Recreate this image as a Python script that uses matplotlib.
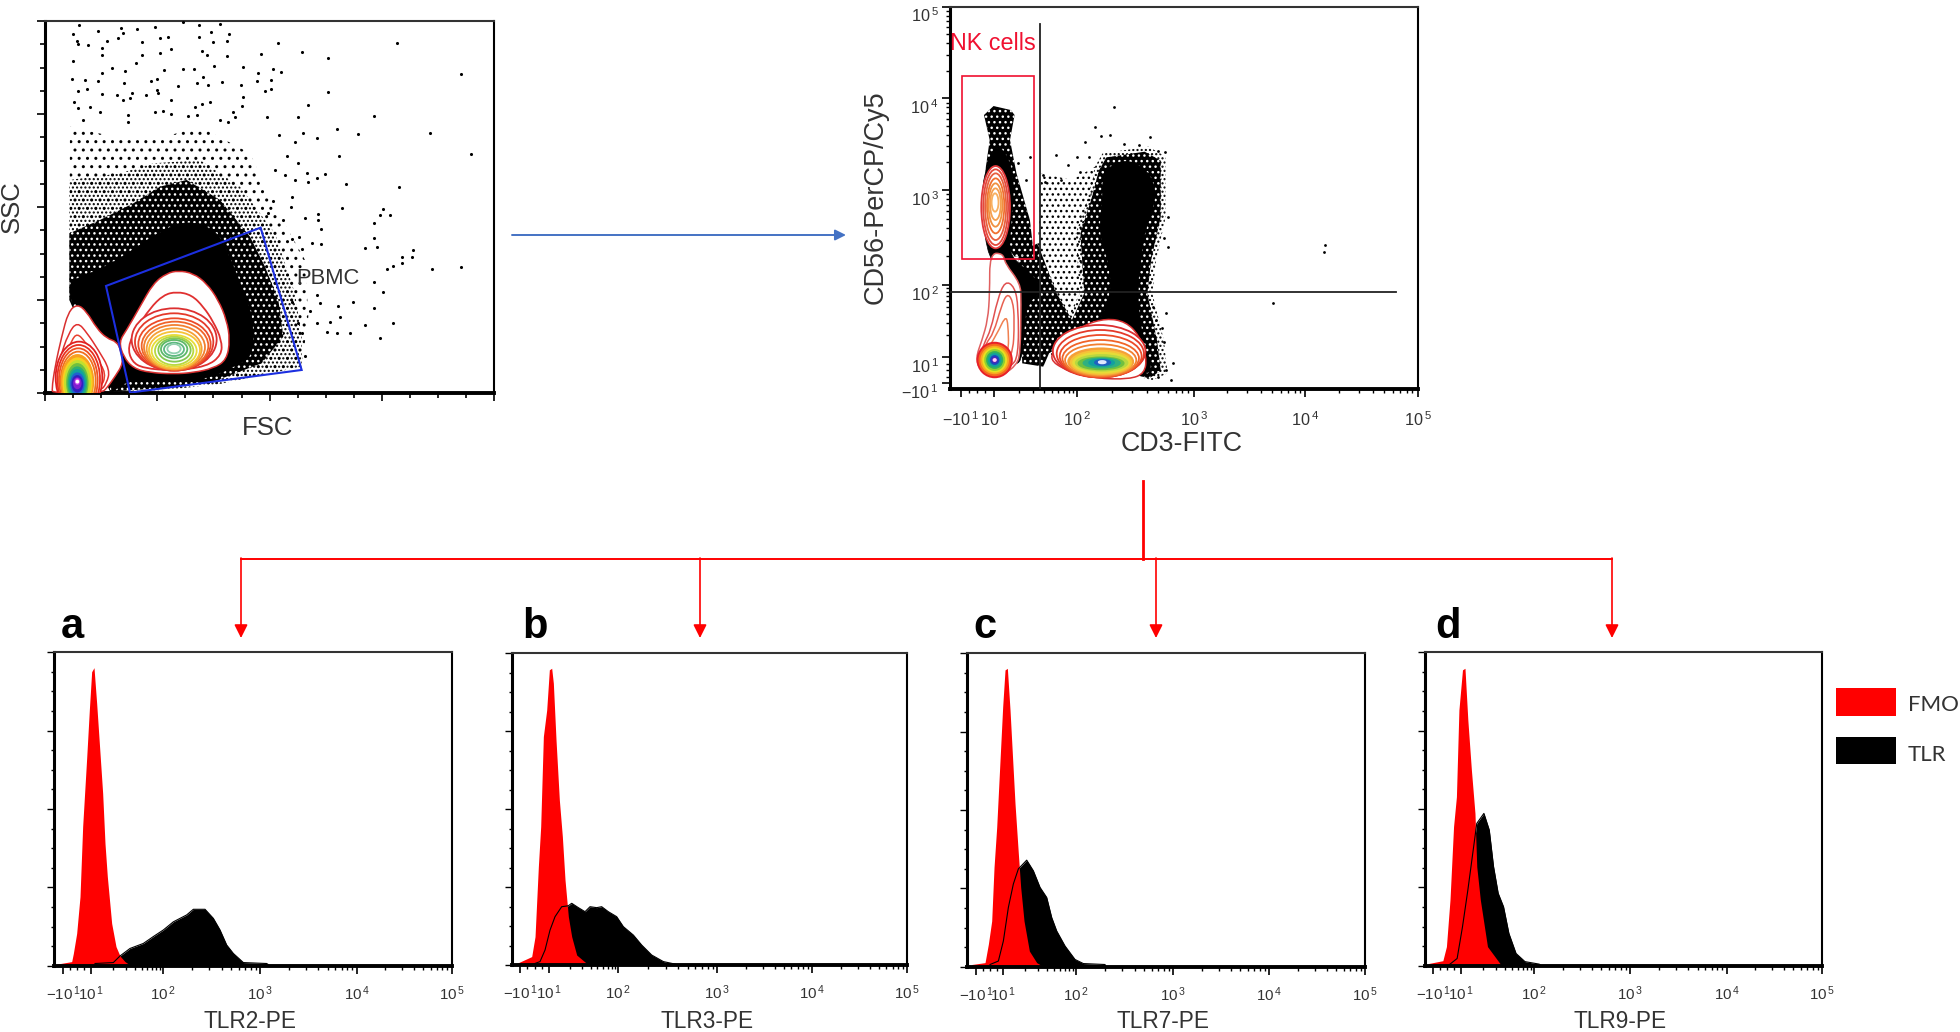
import matplotlib
matplotlib.use('Agg')
import matplotlib.pyplot as plt
from matplotlib.patches import Ellipse, PathPatch, Polygon, Rectangle
from matplotlib.path import Path
import numpy as np

plt.rcParams['font.family'] = ['Liberation Sans', 'DejaVu Sans']
plt.rcParams['mathtext.fontset'] = 'custom'
plt.rcParams['mathtext.rm'] = 'Liberation Sans'
plt.rcParams['hatch.linewidth'] = 1.0

# Histograms: x in channels, y in % of the scale
FMO_A_X = [0, 8, 53, 58, 68, 78, 86, 98, 106, 113, 120, 128, 136, 146, 153, 160, 173, 186, 198, 213, 228]
FMO_A_Y = [0, 0.5, 1.3, 3.9, 10.3, 22, 44.4, 66.2, 81.6, 93.8, 95.1, 83.7, 71, 55, 39, 28.4, 13.5, 6.1, 3.1, 1.3, 0.2]
TLR_A_X = [123, 178, 198, 228, 268, 298, 328, 358, 398, 418, 453, 478, 498, 518, 538, 568, 638, 648]
TLR_A_Y = [0.7, 1, 3.1, 5.5, 7.1, 9.3, 11.4, 14, 16.2, 18, 18, 15.1, 11.4, 6.6, 3.9, 1, 0.7, 0]
TICKS_A = [28, 111, 328, 618, 908, 1193]

FMO_B_X = [15, 60, 70, 80, 87, 95, 105, 113, 120, 125, 133, 143, 152, 160, 170, 180, 195, 225, 230]
FMO_B_Y = [0.5, 2.7, 9.1, 31.6, 44.4, 73.3, 81.8, 94.7, 95.2, 90.4, 72.2, 52.9, 41.2, 27.3, 15.5, 9.1, 3.2, 0.5, 0]
TLR_B_X = [65, 85, 100, 115, 130, 150, 170, 180, 200, 220, 235, 255, 270, 290, 315, 335, 365, 390, 420, 455, 490, 495]
TLR_B_Y = [0.3, 1.1, 4.8, 11.2, 15.5, 18.7, 19, 19.8, 18.4, 17.1, 18.7, 18.4, 18.7, 17.1, 15.5, 12.3, 9.6, 6.4, 3.2, 1.1, 0.3, 0]
TICKS_B = [25, 112, 320, 617, 902, 1187]

FMO_C_X = [15, 55, 65, 75, 82, 90, 100, 108, 115, 122, 130, 138, 145, 155, 162, 172, 188, 210, 230]
FMO_C_Y = [0.7, 1.3, 7.2, 14.6, 31.7, 44.5, 65.9, 83, 94.7, 95.2, 81.9, 65.9, 52, 36, 25.3, 14.6, 5, 1.3, 0]
TLR_C_X = [70, 95, 110, 125, 140, 155, 180, 200, 220, 240, 255, 270, 295, 325, 350, 415, 418]
TLR_C_Y = [0.7, 1.8, 8.2, 18.9, 26.4, 31.2, 34, 30.6, 25.3, 22.1, 15.7, 11.4, 6.6, 2.3, 1, 0.7, 0]
TICKS_C = [28, 110, 328, 620, 908, 1195]

FMO_D_X = [10, 50, 60, 70, 80, 88, 95, 105, 112, 120, 130, 140, 145, 155, 175, 210, 215]
FMO_D_Y = [0.7, 1.6, 6.1, 21, 44.4, 53.9, 81.6, 94.4, 94.9, 78.4, 62.4, 48.6, 31.6, 21, 6.1, 0.7, 0]
TLR_D_X = [70, 90, 105, 120, 135, 145, 165, 180, 192, 205, 220, 235, 255, 280, 320, 325]
TLR_D_Y = [0.5, 2.3, 12.4, 24.1, 36.9, 45.4, 48.6, 43.3, 31.6, 23.1, 18.8, 10.3, 3.9, 1.3, 0.5, 0]
TICKS_D = [23, 102, 305, 575, 845, 1112]

DECADE_LABELS = [r'$\mathregular{-10^{\,1}}$', r'$\mathregular{10^{\,1}}$', r'$\mathregular{10^{\,2}}$',
                 r'$\mathregular{10^{\,3}}$', r'$\mathregular{10^{\,4}}$', r'$\mathregular{10^{\,5}}$']
HIST_NAMES = ['TLR2-PE', 'TLR3-PE', 'TLR7-PE', 'TLR9-PE']

# FSC / SSC plot, channels
FSC_MAX, SSC_MAX = 1348, 1117
PBMC_GATE = [(183, 322), (647, 497), (770, 70), (255, 2)]
SSC_SOLID = [(75, 340), (165, 370), (265, 430), (335, 480), (425, 520), (515, 490), (555, 410), (585, 330), (625, 230),
             (625, 110), (565, 80), (505, 50), (425, 35), (335, 35), (255, 38), (240, 30), (210, 10), (195, 5),
             (215, 140), (165, 160), (125, 230), (97, 270), (75, 275)]
SSC_DENSE = [(73, 280), (73, 480), (165, 520), (265, 570), (345, 620), (425, 640), (525, 580), (615, 470), (660, 380),
             (700, 280), (715, 170), (650, 90), (505, 35), (345, 15), (195, 5)]
SSC_MID = [(73, 280), (73, 640), (225, 660), (325, 690), (465, 700), (585, 620), (690, 480), (750, 300), (770, 170),
           (770, 80), (525, 28), (345, 8), (195, 5)]
SSC_THIN = [(73, 480), (75, 800), (205, 770), (325, 760), (465, 800), (615, 720), (690, 560), (780, 400), (790, 230),
            (770, 80), (525, 30), (210, 10)]
SSC_DOTS = [(103, 1105), (83, 1078), (160, 1087), (227, 1095), (233, 1082), (275, 1092), (330, 1100), (413, 1113),
            (462, 1105), (525, 1108), (368, 1070), (345, 1065), (462, 1070), (497, 1083), (552, 1078), (95, 1058),
            (185, 1058), (220, 1065), (100, 1047), (130, 1045), (170, 1035), (290, 1055), (377, 1033), (505, 1055),
            (545, 1058), (700, 1050), (1055, 1050), (770, 1023), (848, 1005), (470, 1028), (345, 1020), (648, 1017),
            (290, 1015), (83, 998), (170, 1015), (485, 1015), (273, 992), (545, 1012), (508, 982), (593, 980),
            (683, 972), (708, 963), (1248, 957), (640, 962), (357, 970), (413, 973), (448, 972), (240, 967),
            (200, 975), (170, 962), (82, 942), (120, 940), (335, 942), (160, 937), (475, 948), (677, 940),
            (635, 937), (587, 925), (317, 938), (238, 930), (455, 930), (490, 925), (530, 935), (400, 922),
            (848, 905), (677, 912), (660, 908), (335, 910), (100, 908), (125, 912), (262, 902), (170, 898),
            (215, 895), (302, 895), (593, 890), (340, 902), (87, 875), (377, 880), (255, 887), (235, 880),
            (495, 875), (470, 868), (590, 862), (788, 865), (100, 855), (135, 858), (165, 845), (330, 845),
            (355, 848), (450, 860), (377, 838), (565, 845), (987, 832), (667, 828), (758, 828), (248, 835),
            (430, 832), (455, 835), (570, 828), (250, 815), (115, 820), (525, 820), (550, 815), (875, 792),
            (938, 777), (1155, 780), (773, 780), (703, 775), (815, 765), (1277, 718), (750, 755), (883, 713),
            (725, 712), (758, 690), (785, 660), (840, 657), (903, 627), (1062, 620), (720, 655), (750, 640),
            (690, 670), (790, 635), (815, 647), (685, 577), (740, 590), (890, 557), (1013, 552), (1005, 535),
            (1035, 535), (737, 560), (780, 527), (820, 537), (987, 510), (820, 520), (827, 492), (670, 540),
            (715, 520), (1105, 430), (987, 465), (995, 438), (960, 435), (800, 450), (827, 447), (770, 432),
            (763, 470), (740, 462), (1070, 408), (1100, 408), (1070, 392), (1043, 382), (1027, 372), (1160, 372),
            (1248, 380), (987, 335), (1015, 305), (815, 295), (740, 275), (795, 248), (825, 270), (880, 262),
            (923, 275), (987, 255), (885, 230), (855, 215), (815, 212), (960, 205), (1043, 212), (847, 183),
            (875, 180), (915, 180), (1005, 167), (760, 210), (770, 180), (780, 112)]

LYMPH_OUTER = [(222, 155), (245, 190), (285, 260), (325, 330), (365, 360), (400, 368), (445, 360), (485, 330),
               (520, 280), (545, 220), (555, 160), (545, 100), (505, 75), (445, 62), (385, 58), (315, 62),
               (265, 75), (235, 110)]
LYMPH_SECOND = [(248, 140), (275, 195), (315, 255), (355, 295), (395, 305), (440, 295), (475, 260), (505, 215),
                (530, 160), (530, 115), (485, 80), (385, 68), (295, 75), (260, 95)]
LYMPH_LEFT = [260, 270, 280, 290, 297, 305, 312, 320, 330, 340, 348, 357, 367, 375]
LYMPH_RIGHT = [515, 505, 497, 490, 480, 470, 465, 455, 445, 437, 427, 417, 407, 400]
LYMPH_BOTTOM = [68, 68, 70, 70, 72, 72, 75, 80, 85, 95, 105, 112, 120, 127]
LYMPH_TOP = [255, 240, 225, 215, 205, 195, 185, 175, 170, 165, 160, 152, 147, 142]
LYMPH_COLORS = ['#dc2f30', '#e43a2a', '#ec4a28', '#f06428', '#f28030', '#f5a038', '#f6c238', '#e6dc38',
                '#b8d840', '#84c850', '#5cb868', '#5cb880', '#90d0b0', '#ffffff']

DEBRIS_OUTER = [(20, 10), (30, 80), (50, 170), (70, 245), (97, 268), (125, 245), (155, 195), (185, 165), (215, 155),
                (227, 130), (235, 90), (210, 50), (185, 15), (170, 2), (25, 2)]
DEBRIS_SECOND = [(30, 10), (43, 100), (70, 180), (97, 215), (127, 180), (160, 130), (195, 70), (185, 30), (165, 5)]
DEBRIS_THIRD = [(40, 10), (55, 95), (80, 160), (97, 180), (120, 155), (150, 110), (185, 60), (165, 10)]
DEBRIS_LEFT = [32, 37, 42, 47, 50, 55, 60, 66, 70, 74, 78, 82, 87, 92, 94]
DEBRIS_RIGHT = [172, 165, 158, 152, 145, 140, 135, 128, 124, 120, 116, 112, 107, 102, 100]
DEBRIS_BOTTOM = [-60, -60, -55, -50, -45, -40, -35, -25, -18, -10, -2, 5, 15, 28, 32]
DEBRIS_TOP = [155, 145, 135, 125, 115, 105, 97, 88, 78, 70, 60, 52, 45, 42, 38]
DEBRIS_COLORS = ['#e02020', '#e83020', '#f05020', '#f07020', '#f8a020', '#f8d020', '#c0e030', '#70c040', '#30b070',
                 '#10a0a0', '#2060d0', '#3020c0', '#8020d0', '#d040f0', '#ffffff']

# CD3 / CD56 plot, channels
CD3_MAX, CD56_MAX = 1223, 1147
CD3_TICKS = [28, 113, 330, 636, 928, 1221]
CD56_TICKS = [17, 96, 312, 597, 872, 1147]
NK_GATE_X = [31, 218]
NK_GATE_Y = [389, 939]
QUAD_X, QUAD_Y = 235, 291
QUAD_X_TOP, QUAD_Y_RIGHT = 1095, 1166

NK_SOLID = [(98, 677), (116, 727), (143, 717), (168, 637), (158, 487), (153, 407), (188, 367), (228, 327), (238, 287),
            (208, 267), (193, 207), (188, 77), (158, 77), (158, 267), (138, 367), (100, 387), (83, 527), (83, 607)]
T_SOLID = [(398, 640), (428, 680), (478, 685), (528, 640), (538, 567), (508, 477), (498, 387), (488, 287), (498, 187),
           (508, 117), (528, 67), (508, 37), (358, 117), (388, 207), (418, 267), (418, 367), (388, 467), (398, 567)]
T_WIDE = [(378, 667), (398, 707), (518, 727), (563, 697), (563, 517), (538, 387), (528, 287), (558, 147), (568, 47),
          (528, 27), (258, 97), (338, 287), (328, 467), (358, 567)]
T_DENSE = [(388, 655), (408, 695), (508, 712), (550, 685), (550, 517), (525, 387), (515, 287), (540, 147), (550, 55),
           (520, 32), (275, 100), (350, 287), (340, 467), (368, 567)]
MID_DENSE = [(178, 407), (228, 437), (278, 287), (338, 167), (258, 107), (243, 67), (188, 77)]
TAIL_DENSE = [(88, 822), (113, 849), (158, 837), (168, 822), (156, 747), (173, 647), (208, 507), (218, 407), (168, 397),
              (83, 527), (93, 667), (103, 747)]
MID_THIN = [(238, 647), (318, 627), (378, 667), (338, 287), (278, 107), (243, 107), (228, 407)]
CD3_DOTS = [(428, 845), (378, 787), (393, 759), (418, 762), (353, 742), (523, 755), (453, 735), (493, 732), (543, 715),
            (560, 710), (276, 702), (330, 695), (363, 697), (208, 695), (308, 672), (243, 642), (338, 652), (288, 627),
            (248, 622), (570, 517), (558, 452), (570, 425), (198, 627), (178, 677), (563, 227), (553, 182), (558, 142),
            (583, 77), (578, 27), (563, 57), (543, 37), (531, 247), (538, 207), (521, 322), (976, 410), (980, 432),
            (843, 259)]

NK_LEFT = [81, 86, 91, 96, 100, 104, 108]
NK_RIGHT = [156, 151, 146, 141, 136, 132, 126]
NK_BOTTOM = [422, 432, 447, 467, 487, 507, 532]
NK_TOP = [669, 659, 647, 632, 617, 602, 587]
NK_COLORS = ['#e0383a', '#e44a3c', '#e86040', '#f07030', '#f09040', '#f5a050', '#f8b060']

LOW_OUTER = [(103, 407), (138, 407), (143, 377), (183, 317), (185, 267), (183, 107), (173, 72), (138, 42), (108, 40),
             (78, 57), (66, 92), (83, 147), (98, 207), (103, 287)]
LOW_SECOND = [(106, 177), (123, 267), (143, 325), (168, 307), (178, 247), (178, 97), (158, 67), (113, 42), (73, 82),
              (88, 137)]
LOW_THIRD = [(113, 167), (133, 247), (148, 287), (163, 267), (168, 207), (163, 92), (113, 47), (78, 87), (93, 137)]
LOW_FOURTH = [(123, 167), (143, 217), (151, 202), (153, 97), (116, 52), (83, 92)]
LOW_LEFT = [71, 76, 81, 86, 91, 96, 101, 106, 111, 113]
LOW_RIGHT = [161, 156, 151, 146, 141, 136, 131, 126, 121, 119]
LOW_BOTTOM = [35, 41, 47, 52, 57, 63, 69, 75, 81, 84]
LOW_TOP = [139, 133, 127, 122, 117, 111, 105, 99, 93, 90]
LOW_COLORS = ['#e8202a', '#f56a20', '#f8a820', '#e8e020', '#90d030', '#30b060', '#10a0a0', '#2040c0', '#6020b0', '#ffd0ff']

THIGH_OUTER = [(253, 92), (298, 147), (348, 192), (408, 212), (458, 202), (493, 162), (513, 97), (508, 47), (468, 29),
               (378, 32), (308, 52)]
THIGH_LEFT = [268, 278, 286, 293, 300, 308, 315, 321, 328, 335, 348, 363, 378, 388]
THIGH_RIGHT = [510, 506, 500, 493, 486, 478, 473, 468, 463, 453, 443, 428, 418, 406]
THIGH_BOTTOM = [35, 35, 35, 37, 39, 42, 45, 49, 55, 59, 64, 69, 72, 77]
THIGH_TOP = [192, 177, 162, 147, 134, 122, 115, 109, 102, 95, 92, 89, 87, 84]
THIGH_COLORS = ['#dc2f30', '#e43a2a', '#ec4a28', '#f06428', '#f28030', '#f5a038', '#f6c238', '#e6dc38',
                '#b8d840', '#70c040', '#30b080', '#10a0a0', '#2060c0', '#e0e8ff']

RED = '#ff0000'
TEXT = '#333333'


def smooth_path(pts):
    # closed curve through the midpoints of the read points
    pts = np.array(pts, dtype=float)
    nxt = np.roll(pts, -1, axis=0)
    mids = (pts + nxt) / 2
    verts = [mids[-1]]
    codes = [Path.MOVETO]
    for p, m in zip(pts, mids):
        verts += [p, m]
        codes += [Path.CURVE3, Path.CURVE3]
    return Path(verts, codes)


def add_outline(ax, pts, color, lw=1.1):
    ax.add_patch(PathPatch(smooth_path(pts), facecolor='white', edgecolor=color, lw=lw, zorder=4))


def add_rings(ax, left, right, bottom, top, colors, filled_from=99, lw=1.3):
    for i, (l, r, b, t, c) in enumerate(zip(left, right, bottom, top, colors)):
        face = c if i >= filled_from else 'white'
        ax.add_patch(Ellipse(((l + r) / 2, (b + t) / 2), r - l, t - b, facecolor=face, edgecolor=c, lw=lw, zorder=5))


def add_stipple(ax, pts, hatch):
    ax.add_patch(Polygon(pts, closed=True, facecolor='none', edgecolor='black', hatch=hatch, lw=0, zorder=1))


def add_speckled(ax, pts):
    # near black cloud with white gaps
    ax.add_patch(Polygon(pts, closed=True, facecolor='black', edgecolor='white', hatch='...', lw=0, zorder=1.5))


def add_solid(ax, pts):
    ax.add_patch(PathPatch(smooth_path(pts), facecolor='black', edgecolor='black', lw=0.5, zorder=2))


def add_panel(px_left, px_right, px_top, px_bottom):
    ax = fig.add_axes([px_left / 1960, 1 - px_bottom / 1032, (px_right - px_left) / 1960, (px_bottom - px_top) / 1032])
    ax.spines['top'].set_linewidth(1.5)
    ax.spines['top'].set_color('#333333')
    ax.spines['right'].set_linewidth(1.5)
    ax.spines['left'].set_linewidth(2.2)
    ax.spines['bottom'].set_linewidth(2.8)
    return ax


def decade_ticks(ticks):
    # log spaced minors inside each decade, and a few around zero
    minors = list(np.linspace(ticks[0], ticks[1], 5)[1:-1])
    for a, b in zip(ticks[1:-1], ticks[2:]):
        minors += [a + (b - a) * np.log10(k) for k in range(2, 10)]
    return minors


def style_decade_x(ax, ticks, size, pad):
    ax.set_xticks(ticks)
    ax.set_xticklabels(DECADE_LABELS, fontsize=size, color=TEXT)
    ax.set_xticks(decade_ticks(ticks), minor=True)
    ax.tick_params(axis='x', which='major', length=5.5, width=1.2, pad=pad)
    ax.tick_params(axis='x', which='minor', length=3, width=1)


fig = plt.figure(figsize=(19.6, 10.32), dpi=100)

# FSC / SSC
ax = add_panel(45, 494.3, 21, 393.3)
ax.set_xlim(0, FSC_MAX)
ax.set_ylim(0, SSC_MAX)
ax.set_xticks(np.arange(0, FSC_MAX + 1, FSC_MAX / 4))
ax.set_xticks(np.arange(0, FSC_MAX + 1, FSC_MAX / 16), minor=True)
ax.set_yticks(np.arange(0, SSC_MAX + 1, SSC_MAX / 4))
ax.set_yticks(np.arange(0, SSC_MAX + 1, SSC_MAX / 16), minor=True)
ax.tick_params(which='major', length=6, width=1.2, labelbottom=False, labelleft=False)
ax.tick_params(which='minor', length=3.5, width=1.2)
add_stipple(ax, SSC_THIN, '..')
add_stipple(ax, SSC_MID, '....')
add_speckled(ax, SSC_DENSE)
add_solid(ax, SSC_SOLID)
ax.scatter(*zip(*SSC_DOTS), s=5, color='black', linewidths=0, zorder=3)
add_outline(ax, DEBRIS_OUTER, '#d83030')
add_outline(ax, DEBRIS_SECOND, '#e03030')
add_outline(ax, DEBRIS_THIRD, '#e84030')
add_rings(ax, DEBRIS_LEFT, DEBRIS_RIGHT, DEBRIS_BOTTOM, DEBRIS_TOP, DEBRIS_COLORS, filled_from=4)
add_outline(ax, LYMPH_OUTER, '#d83030')
add_outline(ax, LYMPH_SECOND, '#e03030', lw=1.3)
add_rings(ax, LYMPH_LEFT, LYMPH_RIGHT, LYMPH_BOTTOM, LYMPH_TOP, LYMPH_COLORS)
ax.add_patch(Polygon(PBMC_GATE, closed=True, fill=False, edgecolor='#1c2fe0', lw=1.5, zorder=6))

# CD3 / CD56
ax = add_panel(950.3, 1418.3, 6.7, 389)
ax.set_xlim(0, CD3_MAX)
ax.set_ylim(0, CD56_MAX)
style_decade_x(ax, CD3_TICKS, 11.7, 10)
ax.set_yticks(CD56_TICKS)
ax.set_yticklabels(DECADE_LABELS, fontsize=11.7, color=TEXT, va='top')
ax.set_yticks(decade_ticks(CD56_TICKS), minor=True)
ax.tick_params(axis='y', which='major', length=5.5, width=1.2, pad=3)
ax.tick_params(axis='y', which='minor', length=3, width=1)
add_stipple(ax, MID_THIN, '...')
add_stipple(ax, T_WIDE, '....')
add_speckled(ax, T_DENSE)
add_speckled(ax, MID_DENSE)
add_speckled(ax, TAIL_DENSE)
add_solid(ax, NK_SOLID)
add_solid(ax, T_SOLID)
ax.scatter(*zip(*CD3_DOTS), s=4, color='black', linewidths=0, zorder=3)
add_outline(ax, LOW_OUTER, '#e06060')
add_outline(ax, LOW_SECOND, '#e05050')
add_outline(ax, LOW_THIRD, '#e86050')
add_outline(ax, LOW_FOURTH, '#f08050')
add_rings(ax, LOW_LEFT, LOW_RIGHT, LOW_BOTTOM, LOW_TOP, LOW_COLORS, filled_from=0)
add_rings(ax, NK_LEFT, NK_RIGHT, NK_BOTTOM, NK_TOP, NK_COLORS)
add_outline(ax, THIGH_OUTER, '#d83030')
add_rings(ax, THIGH_LEFT, THIGH_RIGHT, THIGH_BOTTOM, THIGH_TOP, THIGH_COLORS, filled_from=5)
ax.add_patch(Rectangle((NK_GATE_X[0], NK_GATE_Y[0]), NK_GATE_X[1] - NK_GATE_X[0], NK_GATE_Y[1] - NK_GATE_Y[0],
                       fill=False, edgecolor='#f01030', lw=1.2, zorder=6))
ax.plot([QUAD_X, QUAD_X], [0, QUAD_X_TOP], color='#222222', lw=1.3, zorder=7)
ax.plot([0, QUAD_Y_RIGHT], [QUAD_Y, QUAD_Y], color='#222222', lw=1.3, zorder=7)

# Histograms
hist_boxes = [(54, 451.7, 652.3, 965.7), (511.7, 907.3, 653.3, 965), (966.7, 1365, 653.3, 966.7), (1425, 1822, 652.3, 965.7)]
hist_series = [(FMO_A_X, FMO_A_Y, TLR_A_X, TLR_A_Y, TICKS_A), (FMO_B_X, FMO_B_Y, TLR_B_X, TLR_B_Y, TICKS_B),
               (FMO_C_X, FMO_C_Y, TLR_C_X, TLR_C_Y, TICKS_C), (FMO_D_X, FMO_D_Y, TLR_D_X, TLR_D_Y, TICKS_D)]
for box, (fx, fy, tx, ty, ticks) in zip(hist_boxes, hist_series):
    ax = add_panel(*box)
    ax.set_xlim(0, ticks[-1])
    ax.set_ylim(0, 100)
    ax.fill_between(tx, ty, color='black', lw=0)
    ax.fill_between(fx, fy, color=RED, lw=0)
    ax.plot(tx, ty, color='black', lw=0.8)
    style_decade_x(ax, ticks, 10.8, 8)
    ax.set_yticks([0, 25, 50, 75, 100])
    ax.set_yticks(np.arange(0, 100.1, 6.25), minor=True)
    ax.tick_params(axis='y', which='major', length=5, width=1, labelleft=False)
    ax.tick_params(axis='y', which='minor', length=2.5, width=1)

# Overlay in figure pixels for arrows and free text
canvas = fig.add_axes([0, 0, 1, 1], zorder=10)
canvas.set_xlim(0, 1960)
canvas.set_ylim(1032, 0)
canvas.axis('off')

canvas.plot([1143, 1143], [481, 559], color=RED, lw=2)
canvas.plot([241, 1612], [559, 559], color=RED, lw=1.4)
for x in [241, 700, 1156, 1612]:
    canvas.annotate('', xy=(x, 638), xytext=(x, 558),
                    arrowprops=dict(arrowstyle='-|>', color=RED, lw=1.2, mutation_scale=20, shrinkA=0, shrinkB=0))
canvas.annotate('', xy=(846, 235), xytext=(512, 235),
                arrowprops=dict(arrowstyle='-|>', color='#4472c4', lw=1.4, mutation_scale=16, shrinkA=0, shrinkB=0))

canvas.text(268, 428, 'FSC', fontsize=18.5, color=TEXT, ha='center', va='center')
canvas.text(12, 207, 'SSC', fontsize=18.5, color=TEXT, ha='center', va='center', rotation=90)
canvas.text(328, 278, 'PBMC', fontsize=15.8, color=TEXT, ha='center', va='center')
canvas.text(1182, 444, 'CD3-FITC', fontsize=19.3, color=TEXT, ha='center', va='center')
canvas.text(876, 197, 'CD56-PerCP/Cy5', fontsize=19.5, color=TEXT, ha='center', va='center', rotation=90)
canvas.text(993, 44, 'NK cells', fontsize=16.8, color='#f01030', ha='center', va='center')

for x, name in zip([250, 707, 1163, 1620], HIST_NAMES):
    canvas.text(x, 1022, name, fontsize=16.3, color=TEXT, ha='center', va='center')
for x, letter in zip([72, 535, 985, 1448], 'abcd'):
    canvas.text(x, 627, letter, fontsize=30, fontweight='bold', color='black', ha='center', va='center')

canvas.add_patch(Rectangle((1836, 688), 60, 28, facecolor=RED, edgecolor='none'))
canvas.add_patch(Rectangle((1836, 737), 60, 27, facecolor='black', edgecolor='none'))
canvas.text(1908, 705, 'FMO', fontsize=16, family='Lato', color=TEXT, va='center')
canvas.text(1908, 755, 'TLR', fontsize=16, family='Lato', color=TEXT, va='center')

fig.savefig('out.png', dpi=100)
